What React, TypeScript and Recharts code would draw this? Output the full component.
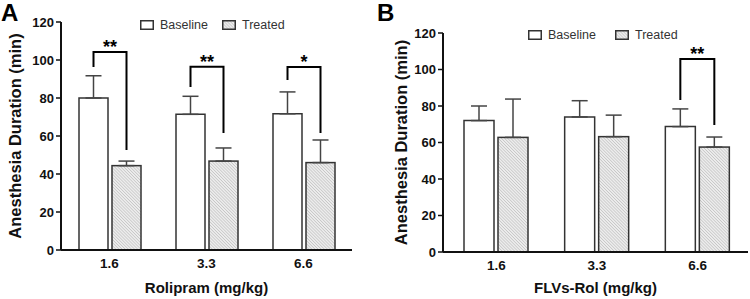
import React from "react";
import { ComposedChart, Bar, XAxis, YAxis, ErrorBar } from "recharts";

const doses = ["1.6", "3.3", "6.6"];
const yTicks = [0, 20, 40, 60, 80, 100, 120];
const seriesNames = ["Baseline", "Treated"];

// panel A: rolipram
const rolBaseline = [80, 71.4, 71.7];
const rolBaselineSd = [11.7, 9.5, 11.5];
const rolTreated = [44.4, 46.8, 46];
const rolTreatedSd = [2.4, 6.9, 11.9];
const rolSig = ["**", "**", "*"];
const rolBracketTop = [104.2, 96.5, 96.3];
const rolBracketLeft = [96.3, 85.8, 89.5];
const rolBracketRight = [52.6, 61.6, 61.6];

// panel B: FLVs-Rol
const flvBaseline = [72, 74, 68.7];
const flvBaselineSd = [8, 8.9, 9.7];
const flvTreated = [62.8, 63.2, 57.5];
const flvTreatedSd = [21, 11.8, 5.5];
const flvSig = ["", "", "**"];
const flvBracketTop = [0, 0, 105.8];
const flvBracketLeft = [0, 0, 83.3];
const flvBracketRight = [0, 0, 69.6];

const font = "'Liberation Sans', Arial, sans-serif";
const ink = "#111";

function buildRows(
  base: number[], baseSd: number[], treat: number[], treatSd: number[],
  sig: string[], top: number[], left: number[], right: number[]
) {
  return doses.map((dose, i) => ({
    dose,
    baseline: base[i],
    baselineErr: [0, baseSd[i]],
    treated: treat[i],
    treatedErr: [0, treatSd[i]],
    sig: sig[i],
    bTop: top[i],
    bLeft: left[i],
    bRight: right[i],
  }));
}

const rolRows = buildRows(rolBaseline, rolBaselineSd, rolTreated, rolTreatedSd, rolSig, rolBracketTop, rolBracketLeft, rolBracketRight);
const flvRows = buildRows(flvBaseline, flvBaselineSd, flvTreated, flvTreatedSd, flvSig, flvBracketTop, flvBracketLeft, flvBracketRight);

const makeTreatedShape = (gap: number, patternId: string) => (props: any) => {
  const { x, y, width, height, payload } = props;
  const base = y + height;
  const k = height / payload.treated;
  const py = (u: number) => base - u * k;
  const cxR = x + width / 2;
  const cxL = cxR - width - gap;
  return (
    <g>
      <rect x={x} y={y} width={width} height={height} fill={`url(#${patternId})`} stroke="#333" strokeWidth={1.5} />
      {payload.sig ? (
        <g>
          <path
            d={`M${cxL},${py(payload.bLeft)}V${py(payload.bTop)}H${cxR}V${py(payload.bRight)}`}
            fill="none"
            stroke="#000"
            strokeWidth={2}
          />
          <text x={(cxL + cxR) / 2} y={py(payload.bTop) + 1} textAnchor="middle" fontSize={18} fontWeight="bold" fontFamily={font} fill="#000">
            {payload.sig}
          </text>
        </g>
      ) : null}
    </g>
  );
};

function Hatch({ id }: { id: string }) {
  return (
    <pattern id={id} patternUnits="userSpaceOnUse" width={2.2} height={2.2} patternTransform="rotate(-45)">
      <rect width={2.2} height={2.2} fill="#ececec" />
      <line x1={0} y1={0} x2={0} y2={2.2} stroke="#b4b4b4" strokeWidth={1} />
    </pattern>
  );
}

type PanelProps = {
  rows: any[];
  xLabel: string;
  patternId: string;
  top: number;
  right: number;
  axisWidth: number;
  axisHeight: number;
  padLeft: number;
  barSize: number;
  labelOffset: number;
};

function Panel(p: PanelProps) {
  const gap = 4;
  return (
    <ComposedChart
      width={375}
      height={299}
      data={p.rows}
      margin={{ top: p.top, right: p.right, bottom: 0, left: 0 }}
      barSize={p.barSize}
      barGap={gap}
    >
      <defs>
        <Hatch id={p.patternId} />
      </defs>
      <XAxis
        dataKey="dose"
        height={p.axisHeight}
        padding={{ left: p.padLeft, right: 0 }}
        axisLine={{ stroke: ink, strokeWidth: 2 }}
        tickLine={false}
        tickSize={6}
        tick={{ fontSize: 13.5, fontWeight: "bold", fill: ink, fontFamily: font }}
        label={{ value: p.xLabel, position: "insideBottom", offset: 6, style: { fontSize: 15, fontWeight: "bold", fill: ink, fontFamily: font } }}
      />
      <YAxis
        width={p.axisWidth}
        domain={[0, 120]}
        ticks={yTicks}
        interval={0}
        axisLine={{ stroke: ink, strokeWidth: 2 }}
        tickLine={{ stroke: ink, strokeWidth: 1.5 }}
        tickSize={5}
        tick={{ fontSize: 13, fontWeight: "bold", fill: ink, fontFamily: font }}
        label={{
          value: "Anesthesia Duration (min)",
          angle: -90,
          position: "insideLeft",
          offset: p.labelOffset,
          style: { textAnchor: "middle", fontSize: 16.5, fontWeight: "bold", fill: ink, fontFamily: font },
        }}
      />
      <Bar dataKey="baseline" name={seriesNames[0]} fill="#fff" stroke="#333" strokeWidth={1.5} isAnimationActive={false}>
        <ErrorBar dataKey="baselineErr" direction="y" width={8} stroke="#444" strokeWidth={1.5} />
      </Bar>
      <Bar dataKey="treated" name={seriesNames[1]} shape={makeTreatedShape(gap, p.patternId)} isAnimationActive={false}>
        <ErrorBar dataKey="treatedErr" direction="y" width={8} stroke="#444" strokeWidth={1.5} />
      </Bar>
    </ComposedChart>
  );
}

function LegendRow({ left, top, gapTo, patternId }: { left: number; top: number; gapTo: number; patternId: string }) {
  const item = (name: string, i: number) => (
    <div key={name} style={{ position: "absolute", left: i === 0 ? 0 : gapTo, top: 0, display: "flex", alignItems: "center", whiteSpace: "nowrap" }}>
      <svg width={14} height={10} style={{ display: "block" }}>
        <rect x={0.75} y={0.75} width={12.5} height={8.5} fill={i === 0 ? "#fff" : `url(#${patternId})`} stroke="#333" strokeWidth={1.5} />
      </svg>
      <span style={{ marginLeft: 6, fontSize: 12.5, color: "#333", fontFamily: font, lineHeight: "10px" }}>{name}</span>
    </div>
  );
  return <div style={{ position: "absolute", left, top }}>{seriesNames.map(item)}</div>;
}

const letterStyle: React.CSSProperties = {
  position: "absolute",
  top: 0,
  fontFamily: font,
  fontWeight: "bold",
  fontSize: 24,
  lineHeight: "26px",
  color: "#000",
};

export default function App() {
  return (
    <div style={{ position: "absolute", left: 0, top: 0, width: 750, height: 299, background: "#fff", overflow: "hidden" }}>
      <div style={{ position: "absolute", left: 0, top: 0 }}>
        <Panel rows={rolRows} xLabel="Rolipram (mg/kg)" patternId="hatchA" top={22} right={23} axisWidth={61} axisHeight={49} padLeft={0} barSize={29} labelOffset={15} />
      </div>
      <div style={{ position: "absolute", left: 375, top: 0 }}>
        <Panel rows={flvRows} xLabel="FLVs-Rol (mg/kg)" patternId="hatchB" top={33} right={2} axisWidth={68} axisHeight={47} padLeft={3} barSize={30} labelOffset={26} />
      </div>
      <LegendRow left={140} top={20} gapTo={82} patternId="hatchA" />
      <LegendRow left={528} top={30} gapTo={87} patternId="hatchB" />
      <div style={{ ...letterStyle, left: 1 }}>A</div>
      <div style={{ ...letterStyle, left: 377 }}>B</div>
    </div>
  );
}
